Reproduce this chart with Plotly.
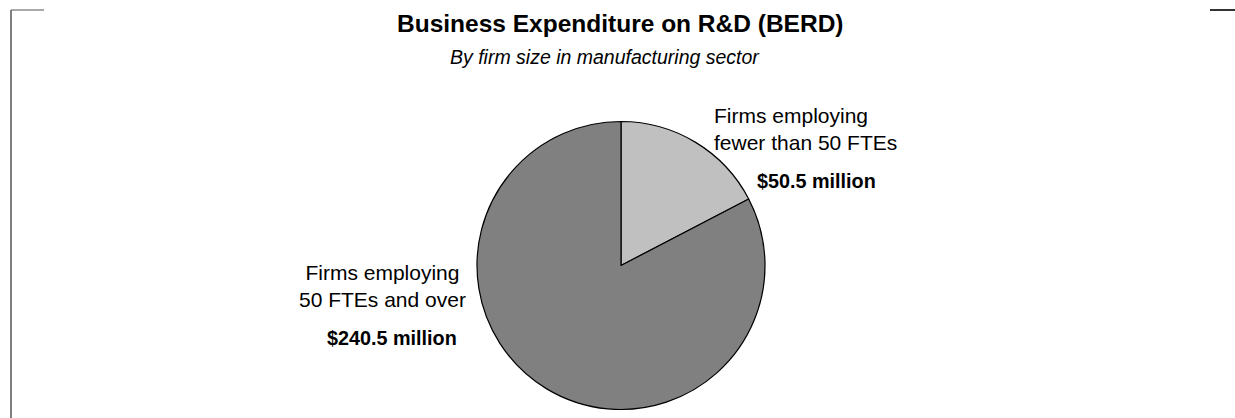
import plotly.graph_objects as go

# BERD by firm size, manufacturing sector ($ million)
categories = ["Firms employing<br>fewer than 50 FTEs", "Firms employing<br>50 FTEs and over"]
values = [50.5, 240.5]
colors = ["#c0c0c0", "#808080"]

W, H = 1235, 418
FONT = "Arial, Liberation Sans, sans-serif"


def px(x):
    return x / W


def py(y):
    return 1 - y / H


cx, cy, r = 621, 265.5, 144

fig = go.Figure(
    go.Pie(
        labels=categories,
        values=values,
        sort=False,
        direction="clockwise",
        rotation=0,
        marker=dict(colors=colors, line=dict(color="#000000", width=1.2)),
        textinfo="none",
        hoverinfo="label+value",
        showlegend=False,
        domain=dict(x=[px(cx - r), px(cx + r)], y=[py(cy + r), py(cy - r)]),
    )
)

ann = []
# titles
ann.append(dict(text="<b>Business Expenditure on R&D (BERD)</b>", x=px(621), y=py(23),
                font=dict(size=24.5, color="#000"), xanchor="center", yanchor="middle"))
ann.append(dict(text="<i>By firm size in manufacturing sector</i>", x=px(605), y=py(57),
                font=dict(size=19.5, color="#000"), xanchor="center", yanchor="middle"))

# slice labels
ann.append(dict(text=categories[0], x=px(712), y=py(129), align="left",
                font=dict(size=21, color="#000"), xanchor="left", yanchor="middle"))
ann.append(dict(text=f"<b>${values[0]:.1f} million</b>", x=px(816), y=py(181),
                font=dict(size=19.8, color="#000"), xanchor="center", yanchor="middle"))
ann.append(dict(text=categories[1], x=px(383), y=py(286), align="center",
                font=dict(size=21, color="#000"), xanchor="center", yanchor="middle"))
ann.append(dict(text=f"<b>${values[1]:.1f} million</b>", x=px(391.5), y=py(337.5),
                font=dict(size=19.8, color="#000"), xanchor="center", yanchor="middle"))

for a in ann:
    a.update(xref="paper", yref="paper", showarrow=False)

# frame corners
shapes = [
    dict(type="line", x0=px(11), x1=px(11), y0=py(10), y1=py(420), line=dict(color="#808080", width=2)),
    dict(type="line", x0=px(11), x1=px(44), y0=py(10), y1=py(10), line=dict(color="#555555", width=1)),
    dict(type="line", x0=px(1210), x1=px(1236), y0=py(10), y1=py(10), line=dict(color="#333333", width=2)),
]
for s in shapes:
    s.update(xref="paper", yref="paper")

fig.update_layout(
    width=W, height=H,
    margin=dict(l=0, r=0, t=0, b=0),
    paper_bgcolor="#ffffff", plot_bgcolor="#ffffff",
    font=dict(family=FONT, color="#000"),
    annotations=ann, shapes=shapes,
)

fig.write_html("out.html")
